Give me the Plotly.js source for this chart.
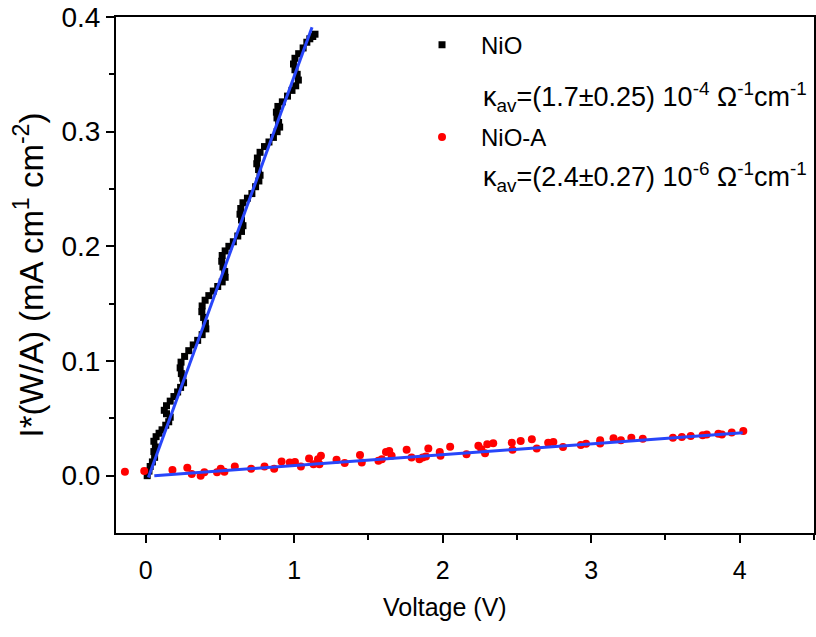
<!DOCTYPE html>
<html>
<head>
<meta charset="utf-8">
<script src="https://cdn.plot.ly/plotly-3.0.1.min.js"></script>
<style>html,body{margin:0;padding:0;background:#fff;}#chart{width:816px;height:637px;}</style>
</head>
<body>
<div id="chart"></div>
<script>
// NiO measured data (Voltage V, I*(W/A))
const nioV = [0.010,0.022,0.030,0.045,0.060,0.055,0.065,0.055,0.070,0.090,0.110,0.135,0.155,0.165,0.140,0.125,0.140,0.165,0.190,0.215,0.235,0.255,0.250,0.240,0.232,0.238,0.262,0.290,0.320,0.350,0.380,0.405,0.402,0.390,0.378,0.380,0.400,0.425,0.455,0.485,0.515,0.535,0.532,0.520,0.512,0.515,0.535,0.560,0.590,0.620,0.645,0.655,0.645,0.635,0.640,0.655,0.685,0.715,0.740,0.762,0.770,0.760,0.748,0.752,0.770,0.800,0.830,0.860,0.885,0.902,0.895,0.884,0.880,0.890,0.920,0.955,0.985,1.010,1.028,1.020,1.005,0.995,1.005,1.030,1.060,1.085,1.105,1.125,1.140];
const nioI = [0.000,0.004,0.008,0.012,0.016,0.021,0.025,0.030,0.034,0.037,0.040,0.044,0.047,0.051,0.054,0.057,0.061,0.065,0.069,0.073,0.077,0.081,0.085,0.089,0.094,0.099,0.104,0.109,0.114,0.118,0.123,0.128,0.133,0.138,0.143,0.148,0.153,0.157,0.161,0.165,0.169,0.173,0.178,0.182,0.187,0.192,0.196,0.200,0.204,0.209,0.213,0.218,0.223,0.228,0.233,0.238,0.242,0.246,0.252,0.257,0.262,0.267,0.272,0.277,0.282,0.287,0.291,0.295,0.300,0.304,0.308,0.312,0.317,0.322,0.326,0.331,0.336,0.340,0.345,0.350,0.354,0.359,0.364,0.368,0.373,0.378,0.381,0.383,0.385];

// NiO-A measured data
const nioaV = [-0.14,-0.01,0.18,0.28,0.31,0.37,0.395,0.48,0.505,0.53,0.60,0.71,0.80,0.865,0.915,0.97,1.005,1.045,1.10,1.13,1.16,1.17,1.18,1.285,1.34,1.443,1.455,1.567,1.59,1.618,1.64,1.656,1.757,1.79,1.843,1.865,1.887,1.903,1.98,1.985,2.05,2.16,2.24,2.26,2.285,2.30,2.34,2.465,2.47,2.525,2.60,2.633,2.71,2.745,2.81,2.93,2.965,3.06,3.06,3.15,3.20,3.27,3.347,3.55,3.61,3.67,3.75,3.778,3.856,3.88,3.946,4.024];
const nioaI = [0.0035,0.004,0.005,0.007,0.0015,0.0,0.003,0.003,0.006,0.0035,0.008,0.006,0.008,0.006,0.0124,0.0115,0.012,0.008,0.015,0.010,0.0144,0.010,0.0173,0.0138,0.011,0.018,0.0115,0.013,0.0144,0.0207,0.0216,0.0173,0.0225,0.0158,0.0144,0.0158,0.0167,0.0236,0.0207,0.0173,0.0253,0.0187,0.026,0.023,0.0196,0.0274,0.0282,0.0288,0.0225,0.0302,0.0317,0.0236,0.0288,0.0294,0.025,0.0268,0.0278,0.0308,0.028,0.0326,0.0308,0.0331,0.0322,0.0331,0.0337,0.0346,0.0352,0.036,0.0366,0.036,0.0377,0.0389];

// Linear fits
const fitNiOV = [0.018, 1.12];
const fitNiOI = [-0.0015, 0.391];
const fitNiOAV = [0.058, 4.02];
const fitNiOAI = [0.0, 0.0374];

// Labels
const seriesNames = ['NiO', 'NiO-A'];
const kappaTexts = [
  'κ<sub>av</sub>=(1.7±0.25) 10<sup>-4</sup> Ω<sup>-1</sup>cm<sup>-1</sup>',
  'κ<sub>av</sub>=(2.4±0.27) 10<sup>-6</sup> Ω<sup>-1</sup>cm<sup>-1</sup>'
];
const xTitle = 'Voltage (V)';
const yTitle = 'I*(W/A) (mA cm<sup>1</sup> cm<sup>-2</sup>)';

const FONT = 'Liberation Sans, Arial, sans-serif';
const BLUE = 'rgb(40,70,250)';

const traces = [
  {x: nioV, y: nioI, mode: 'markers', type: 'scatter', name: seriesNames[0], legendgroup: 'a',
   marker: {symbol: 'square', size: 7, color: '#000'}},
  {x: nioaV, y: nioaI, mode: 'markers', type: 'scatter', name: seriesNames[1], legendgroup: 'b',
   marker: {symbol: 'circle', size: 8, color: '#ff0000'}},
  {x: fitNiOV, y: fitNiOI, mode: 'lines', type: 'scatter', showlegend: false,
   line: {color: BLUE, width: 3}},
  {x: fitNiOAV, y: fitNiOAI, mode: 'lines', type: 'scatter', showlegend: false,
   line: {color: BLUE, width: 3}}
];

const axisCommon = {
  showgrid: false, zeroline: false, showline: true, linecolor: '#000', linewidth: 2,
  mirror: true, ticks: 'outside', tickcolor: '#000', tickwidth: 2, ticklen: 8,
  ticklabeloverflow: 'allow'
};

const layout = {
  width: 816, height: 637,
  margin: {l: 116, r: 2, t: 17, b: 104},
  paper_bgcolor: '#fff', plot_bgcolor: '#fff',
  font: {family: FONT, size: 24, color: '#000'},
  xaxis: Object.assign({}, axisCommon, {
    range: [-0.2, 4.5], tickvals: [0,1,2,3,4], ticktext: ['0','1','2','3','4'],
    minor: {ticks: 'outside', ticklen: 5, tickwidth: 2, tickcolor: '#000', tickvals: [0.5,1.5,2.5,3.5,4.5]},
    tickfont: {family: FONT, size: 25}, ticklabelstandoff: 6
  }),
  yaxis: Object.assign({}, axisCommon, {
    range: [-0.05, 0.4], tickvals: [0,0.1,0.2,0.3,0.4], ticktext: ['0.0','0.1','0.2','0.3','0.4'],
    minor: {ticks: 'outside', ticklen: 5, tickwidth: 2, tickcolor: '#000', tickvals: [0.05,0.15,0.25,0.35]},
    tickfont: {family: FONT, size: 28},
    title: {text: yTitle, font: {family: FONT, size: 33}, standoff: 8}
  }),
  showlegend: true,
  legend: {x: 0.4112, y: 0.989, xanchor: 'left', yanchor: 'top', bgcolor: 'rgba(0,0,0,0)',
    font: {family: FONT, size: 24}, tracegroupgap: 58, traceorder: 'grouped', itemwidth: 68},
  annotations: [
    {xref: 'paper', yref: 'paper', x: 0.5229, y: 0.8449, xanchor: 'left', yanchor: 'middle',
     text: kappaTexts[0], showarrow: false, font: {family: FONT, size: 27}},
    {xref: 'paper', yref: 'paper', x: 0.5229, y: 0.6902, xanchor: 'left', yanchor: 'middle',
     text: kappaTexts[1], showarrow: false, font: {family: FONT, size: 27}},
    {xref: 'paper', yref: 'paper', x: 0.4713, y: -0.1438, xanchor: 'center', yanchor: 'middle',
     text: xTitle, showarrow: false, font: {family: FONT, size: 25}}
  ]
};

Plotly.newPlot('chart', traces, layout, {displayModeBar: false, staticPlot: true});
</script>
</body>
</html>
